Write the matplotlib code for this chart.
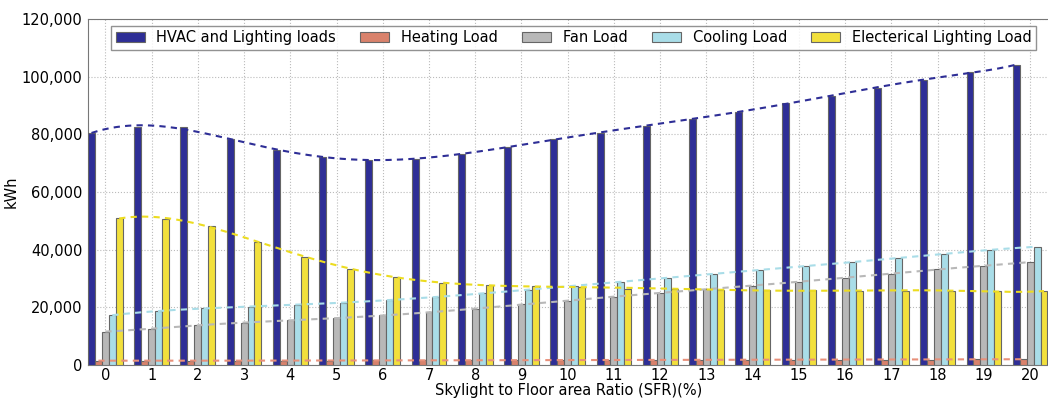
import matplotlib
matplotlib.use("Agg")
import matplotlib.pyplot as plt
import numpy as np
from matplotlib.ticker import FuncFormatter

sfr = list(range(21))

hvac_lighting = [80600, 82600, 82400, 78300, 74600, 72000, 71100, 71600, 73300, 75700,
                 78300, 80400, 82800, 85400, 87900, 90800, 93400, 96100, 98900, 101500, 104100]
heating = [1500, 1500, 1500, 1500, 1550, 1550, 1600, 1600, 1650, 1650,
           1700, 1700, 1750, 1750, 1800, 1800, 1850, 1900, 1900, 1950, 2000]
fan = [11600, 12600, 13800, 14700, 15500, 16200, 17200, 18300, 19500, 21000,
       22300, 23700, 25000, 26300, 27500, 28900, 30300, 31700, 33200, 34400, 35700]
cooling = [17300, 18600, 19800, 20200, 20900, 21600, 22500, 23600, 24900, 26100,
           27500, 28800, 30300, 31600, 33000, 34300, 35700, 37100, 38500, 40000, 41000]
lighting = [50900, 50600, 48200, 42600, 37500, 33400, 30500, 28400, 27600, 27400,
            27200, 26500, 26300, 26000, 26000, 25900, 25800, 25800, 25700, 25600, 25600]

labels = ["HVAC and Lighting loads", "Heating Load", "Fan Load",
          "Cooling Load", "Electerical Lighting Load"]
series = [hvac_lighting, heating, fan, cooling, lighting]
bar_colors = ["#2e2e96", "#d9826c", "#b8b8b8", "#a9dde8", "#f2e03c"]
trend_colors = ["#2e2e96", "#e8907a", "#b8b8b8", "#a9dde8", "#ecdc20"]

fig = plt.figure(figsize=(10.48, 3.99), dpi=100)
ax = fig.add_axes([88 / 1048, 34 / 399, 962 / 1048, 346 / 399])

x = np.array(sfr, dtype=float)
width = 0.15
for i, (vals, lab) in enumerate(zip(series, labels)):
    pos = x + (i - 2) * width
    ax.bar(pos, vals, width, color=bar_colors[i], edgecolor="#666666",
           linewidth=0.8, label=lab, zorder=3)
    # smooth trend line
    fit = np.polynomial.Polynomial.fit(pos, vals, 8)
    xs = np.linspace(pos[0], pos[-1], 300)
    ax.plot(xs, fit(xs), linestyle=(0, (3, 2.5)), color=trend_colors[i],
            linewidth=1.5, zorder=4)

ax.set_xlim(-0.375, 20.43)
ax.set_ylim(0, 120000)
ax.set_xticks(sfr)
ax.set_yticks(range(0, 120001, 20000))
ax.yaxis.set_major_formatter(FuncFormatter(lambda v, p: f"{int(v):,}"))
ax.tick_params(length=0, labelsize=10.5)
ax.tick_params(axis="x", pad=2)
ax.tick_params(axis="y", pad=4)
ax.grid(True, linestyle=":", color="#bbbbbb", linewidth=0.8, zorder=0)
for s in ax.spines.values():
    s.set_color("#777777")
ax.set_xlabel("Skylight to Floor area Ratio (SFR)(%)", fontsize=10.5, labelpad=0)
ax.set_ylabel("kWh", fontsize=10.5, labelpad=2)

ax.legend(loc="upper right", ncol=5, fontsize=10.5, frameon=True, fancybox=False,
          edgecolor="#777777", bbox_to_anchor=(0.9854, 0.98), borderaxespad=0,
          handlelength=2.0, columnspacing=1.65, borderpad=0.3)

fig.savefig("out.png", dpi=100)
